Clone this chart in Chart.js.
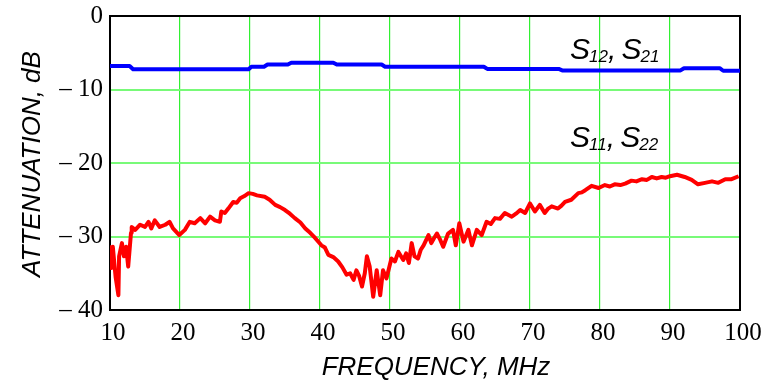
<!DOCTYPE html>
<html><head><meta charset="utf-8">
<script src="https://cdn.jsdelivr.net/npm/chart.js@4.4.1/dist/chart.umd.min.js"></script>
<style>html,body{margin:0;padding:0;background:#fff;overflow:hidden}</style>
</head><body>
<canvas id="c" width="765" height="387"></canvas>
<script>
// ---- data ----
const xTickValues = [10, 20, 30, 40, 50, 60, 70, 80, 90, 100];
const yTickValues = [0, -10, -20, -30, -40];

// S12, S21 (blue)
const s12Freq = [10, 12.8, 13.3, 29.8, 30.2, 32.0, 32.5, 35.4, 35.9, 41.9, 42.4, 48.8, 49.3, 63.4, 63.9, 74.1, 74.6, 91.5, 92.0, 97.1, 97.6, 100];
const s12Db   = [-6.8, -6.8, -7.25, -7.25, -6.9, -6.9, -6.6, -6.6, -6.35, -6.35, -6.6, -6.6, -6.9, -6.9, -7.2, -7.2, -7.4, -7.4, -7.1, -7.1, -7.45, -7.45];

// S11, S22 (red)
const s11Freq = [
  10.0, 10.2, 10.4, 10.8, 11.2, 11.3, 11.7, 12.0, 12.3, 12.6,
  13.0, 13.1, 13.6, 14.3, 15.0, 15.5, 15.9, 16.4, 17.1, 17.9,
  18.5, 19.0, 19.9, 20.7, 21.4, 22.1, 22.9, 23.6, 24.3, 25.0,
  25.7, 25.9, 26.4, 26.9, 27.6, 28.1, 28.6, 29.2, 29.8, 30.4,
  31.0, 32.1, 32.8, 33.6, 34.3, 35.0, 35.7, 36.4, 37.2, 37.9,
  38.6, 39.3, 40.2, 40.7, 41.2, 41.9, 42.6, 43.2, 43.8, 44.3,
  44.8, 45.2, 45.6, 46.0, 46.4, 46.7, 47.1, 47.6, 48.1, 48.6,
  49.0, 49.5, 50.2, 50.7, 51.2, 51.9, 52.3, 52.7, 53.1, 53.5,
  54.0, 54.4, 54.8, 55.5, 55.9, 56.3, 56.7, 57.2, 57.6, 58.3,
  59.0, 59.4, 59.9, 60.5, 61.2, 61.7, 62.4, 63.1, 63.8, 64.4,
  65.0, 65.7, 66.4, 67.4, 68.0, 68.6, 69.3, 70.0, 70.7, 71.4,
  72.1, 72.6, 73.1, 74.0, 74.5, 75.0, 75.9, 76.9, 77.4, 77.9,
  78.8, 79.8, 80.7, 81.4, 82.1, 82.9, 83.6, 84.5, 85.2, 86.0,
  86.7, 87.4, 88.1, 88.8, 89.4, 90.0, 91.0, 92.1, 93.1, 94.0,
  95.0, 96.0, 96.9, 97.9, 98.8, 99.8
];
const s11Db = [
  -31.2, -34.3, -31.4, -35.5, -38.0, -32.7, -30.9, -32.7, -31.4, -34.1,
  -29.5, -28.7, -29.1, -28.4, -28.7, -28.0, -28.9, -27.8, -28.7, -28.4,
  -28.0, -28.9, -29.8, -29.1, -28.0, -28.2, -27.5, -28.2, -27.3, -27.8,
  -28.0, -26.6, -26.8, -26.2, -25.3, -25.4, -24.8, -24.5, -24.1, -24.2,
  -24.4, -24.6, -25.0, -25.7, -26.0, -26.4, -26.9, -27.5, -28.1, -28.9,
  -29.5, -30.2, -31.2, -31.5, -32.5, -32.8, -33.4, -34.2, -35.2, -35.0,
  -35.9, -34.6, -35.4, -36.8, -35.0, -32.7, -34.1, -38.2, -34.6, -38.0,
  -34.6, -35.7, -33.0, -33.4, -32.1, -33.2, -32.3, -33.6, -30.9, -32.7,
  -33.0, -31.8, -31.2, -29.8, -30.9, -30.2, -29.6, -30.5, -31.4, -29.6,
  -29.1, -31.2, -28.2, -30.7, -29.1, -31.2, -29.1, -29.8, -28.0, -28.3,
  -27.5, -27.6, -26.8, -27.3, -26.9, -26.4, -26.8, -25.5, -26.6, -25.7,
  -26.8, -26.2, -25.9, -26.2, -25.8, -25.3, -25.0, -24.1, -24.0, -23.7,
  -23.1, -23.4, -23.0, -23.2, -22.9, -23.0, -22.8, -22.4, -22.5, -22.2,
  -22.3, -21.9, -22.1, -21.9, -22.0, -21.8, -21.6, -21.9, -22.3, -22.9,
  -22.7, -22.5, -22.7, -22.2, -22.2, -21.8
];

// ---- helpers ----
const pts = (xs, ys) => xs.map((x, i) => ({ x: x, y: ys[i] }));

const framePlugin = {
  id: 'frame',
  beforeDatasetsDraw(chart) {
    const { ctx, chartArea: a } = chart;
    ctx.save();
    ctx.strokeStyle = '#000';
    ctx.lineWidth = 2;
    ctx.strokeRect(a.left, a.top, a.right - a.left, a.bottom - a.top);
    ctx.restore();
  }
};

const textPlugin = {
  id: 'texts',
  afterDraw(chart) {
    const ctx = chart.ctx;
    ctx.save();
    ctx.fillStyle = '#000';
    ctx.textBaseline = 'alphabetic';
    ctx.textAlign = 'left';
    const big = 'italic 30px "Liberation Sans", Arial, sans-serif';
    const sub = 'italic 17px "Liberation Sans", Arial, sans-serif';
    function label(x, y, parts) {
      let cx = x;
      parts.forEach(p => {
        ctx.font = p.s ? sub : big;
        ctx.fillText(p.t, cx, y + (p.s ? 3 : 0));
        cx += ctx.measureText(p.t).width + (p.dx || 0);
      });
    }
    label(570, 59, [{ t: 'S', dx: -1 }, { t: '12', s: 1 }, { t: ', ', dx: -3 }, { t: 'S', dx: -1 }, { t: '21', s: 1 }]);
    label(570, 147, [{ t: 'S', dx: -1 }, { t: '11', s: 1 }, { t: ', ', dx: -3 }, { t: 'S', dx: -1 }, { t: '22', s: 1 }]);

    // axis titles
    ctx.font = 'italic 26px "Liberation Sans", Arial, sans-serif';
    ctx.textAlign = 'center';
    ctx.textBaseline = 'middle';
    ctx.fillText('FREQUENCY, MHz', 436, 368);
    ctx.translate(33, 164);
    ctx.rotate(-Math.PI / 2);
    ctx.fillText('ATTENUATION, dB', 0, 0);
    ctx.restore();
  }
};

const tickFont = { family: '"Liberation Serif", "Times New Roman", serif', size: 25 };

new Chart(document.getElementById('c'), {
  type: 'line',
  data: {
    datasets: [
      { label: 'S12, S21', data: pts(s12Freq, s12Db), borderColor: '#0000ff', borderWidth: 4, pointRadius: 0, tension: 0, borderJoinStyle: 'round' },
      { label: 'S11, S22', data: pts(s11Freq, s11Db), borderColor: '#ff0000', borderWidth: 4, pointRadius: 0, tension: 0, borderJoinStyle: 'round' }
    ]
  },
  options: {
    responsive: false,
    animation: false,
    events: [],
    layout: { padding: { left: 0, top: 16, right: 25, bottom: 0 } },
    plugins: { legend: { display: false }, tooltip: { enabled: false } },
    scales: {
      x: {
        type: 'linear', min: 10, max: 100,
        afterFit: s => { s.height = 77; s.paddingLeft = 0; s.paddingRight = 0; },
        afterBuildTicks: s => { s.ticks = xTickValues.map(v => ({ value: v })); },
        ticks: { color: '#000', font: tickFont, padding: 8, labelOffset: 3, maxRotation: 0, autoSkip: false },
        grid: { color: 'rgb(50,240,50)', lineWidth: 1.2, drawTicks: false },
        border: { display: false }
      },
      y: {
        type: 'linear', min: -40, max: 0,
        afterFit: s => { s.width = 110; s.paddingTop = 0; s.paddingBottom = 0; },
        afterBuildTicks: s => { s.ticks = yTickValues.map(v => ({ value: v })); },
        ticks: {
          color: '#000', font: tickFont, padding: 7,
          callback: v => v === 0 ? '0' : '\u2013 ' + Math.abs(v)
        },
        grid: { color: 'rgb(120,250,120)', lineWidth: 2, drawTicks: false },
        border: { display: false }
      }
    }
  },
  plugins: [framePlugin, textPlugin]
});
</script>
</body></html>
